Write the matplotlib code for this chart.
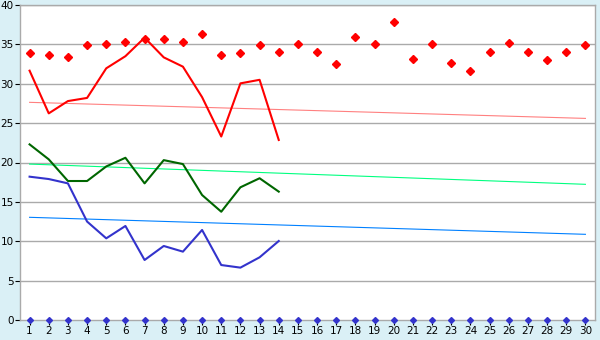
import matplotlib
matplotlib.use("Agg")
import matplotlib.pyplot as plt

days = list(range(1, 31))
red_points = [33.9, 33.6, 33.35, 34.9, 35.05, 35.26, 35.7, 35.68, 35.26, 36.27,
              33.6, 33.87, 34.88, 34.0, 35.0, 34.0, 32.46, 35.9, 35.0, 37.8,
              33.2, 35.0, 32.6, 31.57, 34.0, 35.13, 34.0, 32.97, 34.0, 34.88]
line_days = list(range(1, 15))
red_line = [31.66, 26.24, 27.8, 28.2, 31.96, 33.5, 35.85, 33.35, 32.17, 28.3,
            23.3, 30.05, 30.5, 22.86]
green_line = [22.3, 20.4, 17.65, 17.65, 19.5, 20.6, 17.35, 20.3, 19.8, 15.87,
              13.75, 16.85, 18.0, 16.3]
blue_line = [18.2, 17.9, 17.35, 12.5, 10.37, 11.94, 7.62, 9.4, 8.68, 11.43,
             6.98, 6.65, 7.96, 10.03]
bottom_points = [0] * 30
trend_days = [1, 30]
red_trend = [27.64, 25.6]
green_trend = [19.8, 17.23]
blue_trend = [13.04, 10.88]
yticks = [0, 5, 10, 15, 20, 25, 30, 35, 40]

bg = "#daf0f6"
fig = plt.figure(figsize=(6, 3.4), dpi=100, facecolor=bg)
ax = fig.add_axes([20/600, 20/340, 575/600, 315/340])
ax.set_facecolor("white")

for y in yticks[1:]:
    ax.axhline(y, color="#aaaaaa", lw=1.0, zorder=0)

ax.plot(trend_days, red_trend, color="#ff8080", lw=0.8, zorder=2)
ax.plot(trend_days, green_trend, color="#00ff80", lw=0.8, zorder=2)
ax.plot(trend_days, blue_trend, color="#0080ff", lw=0.8, zorder=2)

ax.plot(line_days, red_line, color="#ff0000", lw=1.5, zorder=3)
ax.plot(line_days, green_line, color="#006600", lw=1.5, zorder=3)
ax.plot(line_days, blue_line, color="#3333cc", lw=1.5, zorder=3)

ax.plot(days, red_points, ls="none", marker="D", ms=3.8, color="#ff0000", zorder=4)
ax.plot(days, bottom_points, ls="none", marker="D", ms=3, color="#3333cc",
        zorder=5, clip_on=False)

ax.set_xlim(0.5, 30.5)
ax.set_ylim(0, 40)
ax.set_xticks(days)
ax.set_xticklabels([str(d) for d in days])
ax.set_yticks(yticks)
ax.tick_params(axis="both", labelsize=7.5, color="black", length=3.5, width=0.8, pad=1)
for s in ax.spines.values():
    s.set_color("#aaaaaa")
    s.set_linewidth(1.0)

fig.savefig("out.png", dpi=100, facecolor=bg)
